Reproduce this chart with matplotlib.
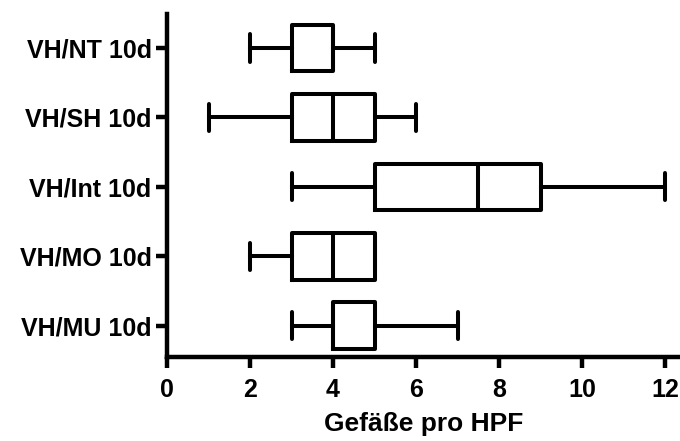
import matplotlib
matplotlib.use('Agg')
import matplotlib.pyplot as plt

# Gruppen (von oben nach unten)
groups = ['VH/NT 10d', 'VH/SH 10d', 'VH/Int 10d', 'VH/MO 10d', 'VH/MU 10d']
whisker_low = [2, 1, 3, 2, 3]
q1 = [3, 3, 5, 3, 4]
medians = [4, 4, 7.5, 4, 4]
q3 = [4, 5, 9, 5, 5]
whisker_high = [5, 6, 12, 5, 7]
xticks = [0, 2, 4, 6, 8, 10, 12]

plt.rcParams['font.family'] = ['Liberation Sans', 'DejaVu Sans']
plt.rcParams['font.weight'] = 'bold'

stats = []
for i, name in enumerate(groups):
    stats.append({'label': name, 'whislo': whisker_low[i], 'q1': q1[i], 'med': medians[i],
                  'q3': q3[i], 'whishi': whisker_high[i], 'fliers': []})

# oben nach unten -> Positionen umdrehen
positions = list(range(len(groups) - 1, -1, -1))

fig = plt.figure(figsize=(6.8, 4.41), dpi=100)
ax = fig.add_axes([167 / 680, 1 - 357 / 441, 1 - 167 / 680, (357 - 14) / 441])

lw = 2.9
ax.bxp(stats, positions=positions, vert=False, widths=0.67, showfliers=False,
       boxprops=dict(color='black', linewidth=lw),
       whiskerprops=dict(color='black', linewidth=lw),
       capprops=dict(color='black', linewidth=lw, solid_capstyle='round'),
       medianprops=dict(color='black', linewidth=lw),
       capwidths=0.39)

ax.set_xlim(0, 12.36)
ax.set_ylim(-0.45, 4.49)
ax.set_xticks(xticks)
ax.set_xticklabels([str(t) for t in xticks], fontsize=18, fontweight='bold')
ax.set_yticks(positions)
ax.set_yticklabels(groups, fontsize=18, fontweight='bold')

for s in ['top', 'right']:
    ax.spines[s].set_visible(False)
for s in ['left', 'bottom']:
    ax.spines[s].set_linewidth(3.2)

ax.tick_params(axis='both', direction='out', length=8, width=3.2)
ax.tick_params(axis='x', pad=7)
ax.tick_params(axis='y', pad=3)

ax.set_xlabel('Gefäße pro HPF', fontsize=19, fontweight='bold', labelpad=7)

fig.savefig('out.png', dpi=100)
